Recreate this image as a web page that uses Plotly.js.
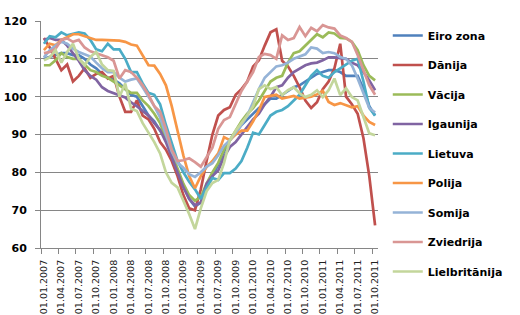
<!DOCTYPE html>
<html><head><meta charset="utf-8">
<script src="https://cdn.plot.ly/plotly-3.0.1.min.js"></script>
<style>html,body{margin:0;padding:0;background:#fff;}#c{width:520px;height:315px;}</style>
</head><body><div id="c"></div>
<script>
var months = ["01.01.2007","01.02.2007","01.03.2007","01.04.2007","01.05.2007","01.06.2007","01.07.2007","01.08.2007","01.09.2007","01.10.2007","01.11.2007","01.12.2007",
"01.01.2008","01.02.2008","01.03.2008","01.04.2008","01.05.2008","01.06.2008","01.07.2008","01.08.2008","01.09.2008","01.10.2008","01.11.2008","01.12.2008",
"01.01.2009","01.02.2009","01.03.2009","01.04.2009","01.05.2009","01.06.2009","01.07.2009","01.08.2009","01.09.2009","01.10.2009","01.11.2009","01.12.2009",
"01.01.2010","01.02.2010","01.03.2010","01.04.2010","01.05.2010","01.06.2010","01.07.2010","01.08.2010","01.09.2010","01.10.2010","01.11.2010","01.12.2010",
"01.01.2011","01.02.2011","01.03.2011","01.04.2011","01.05.2011","01.06.2011","01.07.2011","01.08.2011","01.09.2011","01.10.2011"];
var tickLabels = ["01.01.2007","01.04.2007","01.07.2007","01.10.2007","01.01.2008","01.04.2008","01.07.2008","01.10.2008","01.01.2009","01.04.2009","01.07.2009","01.10.2009","01.01.2010","01.04.2010","01.07.2010","01.10.2010","01.01.2011","01.04.2011","01.07.2011","01.10.2011"];

var eiroZona = [110,110.5,111,111.5,111.5,111,111,110,108.5,107.5,106,105,104.5,103.5,102,100.5,100,97.5,95,93.5,91,89,84.5,80,76.5,73,71,72,76,79,82,85.5,88.5,90.5,92.5,94,95.5,97,98,99.5,99.5,100.5,101.5,102.5,103,104,105,106,106.5,107,107,106.5,105.5,105.5,105.5,102,97.5,95];
var danija = [115.5,113,110,107,108.5,104,105.5,107.5,105,106,106.5,104.8,105.5,100,96,96,99,95,94,91.5,88,86,83,79,74,70.5,70,75.5,83,90,95,96.5,97.2,100.5,102,104,108,109.6,113.5,117,117.8,109.5,108,105.5,102.5,99,97,98.5,102,104,107.5,114,100,98,95.5,89,79,66];
var vacija = [108.3,108.3,109.6,111.5,110.5,110,110,108.5,107,106.5,105.5,105,104,103,102,101,101,99,97.5,95.5,93,89,85,80.5,77,74,72.5,73.5,77,80,82.5,86,88.5,91,93.5,95.5,97,99,101.5,104,105,105.5,109,111.5,112,113.5,115,116.5,115.7,117,116.7,115.5,115.4,114.5,112.3,108.3,105.5,104.3];
var igaunija = [115,115.5,115,115,113.5,111.5,109.5,107,105.5,104.5,102.5,101.5,101,100.5,99.8,98.5,97.5,96.2,95,93,91.2,88,84,80,76,73,71.3,72,77,79,80.5,84,86.7,88,90,92,94,95.5,98,100,102.5,103,105,106.5,107.5,108.3,108.8,109,109.6,110.4,110.4,110.2,110,109,108.3,106.5,104.3,101.7];
var lietuva = [114,116,115.7,117,116.2,116.7,117,116.7,115,112.5,112,114,112.5,112.5,110,106.5,106.5,103.5,101,100.5,98,92.5,87.5,83,80,77.5,75.5,73,76,78.5,78,79.8,79.8,81,83,86.5,90.5,90,92.5,95,96,96.5,97.5,99,100.5,103,105.5,107,105.5,105,106.5,107.5,108.5,109.5,110,104,97,95];
var polija = [112.3,114,113.6,115,115.7,116.5,116.5,116,115.4,115,115,115,115,114.8,114.5,113.8,113.5,111,108.3,108.2,106,103,97.5,91,84.5,79,75.8,79,81.4,83,85,89.3,88.5,90,91,91,93.5,96.4,99.9,100.2,100.5,99.5,99.8,100.2,99.5,99.8,100,100.6,101.5,98.6,97.8,98.3,97.8,97.2,97.5,95,93.3,92.5];
var somija = [110.4,112.3,113.5,114.5,114,112.7,111.8,111.2,110.6,109,107.5,106.5,106.5,105,104,104.5,104.8,102.5,100,97.5,94.5,90,85.5,82.5,81.2,79.5,78.8,80,81.5,82.4,84.5,87,88.5,90.5,92.5,95,98.5,102,105,106.5,108,108.3,109,110,110.5,111.2,113,112.7,111.5,111.8,111.5,110.5,110,108.3,104.8,100.9,97,95.8];
var zviedrija = [111.5,111.8,112.7,115,115.4,114.5,115,113,112,111.4,110.8,110.4,109.5,104.8,107,106.5,105,103,100.5,97.5,96,91.5,86,83,83.2,83.7,82.7,81.5,84,86.5,91.5,93.8,94.6,98,101.5,104,106.5,110.5,111.3,111,110,116.2,115,115.5,118.4,116,118.2,117.3,118.9,118.3,118,116.2,115.5,114.5,111,107,103,100.5];
var lielbritanija = [109.6,110.4,112.3,109,111.8,114,110,108.3,110.5,111.8,108.5,107,106.8,100,103.5,96.8,96.2,93,90.5,88,85,80,77.2,76,72.5,69,65,70.5,75,77.2,78,82.5,88.5,91,93,95,97.5,102,103,102,102.5,100.4,101.7,102.5,100.9,99.9,100.5,101.7,99.9,101.7,104.8,100.4,102.2,99.9,99,94.6,90.3,89.8];

var seriesNames = ["Eiro zona","Dānija","Vācija","Igaunija","Lietuva","Polija","Somija","Zviedrija","Lielbritānija"];
var seriesData = [eiroZona,danija,vacija,igaunija,lietuva,polija,somija,zviedrija,lielbritanija];
var colors = ["#4F81BD","#C0504D","#9BBB59","#8064A2","#4BACC6","#F79646","#95B3D7","#D99694","#C3D69B"];

var xIdx = months.map(function(m,i){return i;});
var tickIdx = tickLabels.map(function(t){return months.indexOf(t);});

var traces = seriesData.map(function(d,k){
  return {x:xIdx, y:d, type:'scatter', mode:'lines', name:seriesNames[k], legendgroup:'g'+k,
    line:{color:colors[k], width:2.7}, hoverinfo:'skip'};
});

var layout = {
  width:520, height:315,
  margin:{l:41,r:136,t:21,b:67},
  paper_bgcolor:'#fff', plot_bgcolor:'#fff',
  showlegend:true,
  legend:{x:1.029, xanchor:'left', y:1.0, yanchor:'top', maxheight:315,
    font:{family:'DejaVu Sans', size:11, color:'#000', weight:'bold'}, tracegroupgap:10.5, bgcolor:'rgba(0,0,0,0)'},
  xaxis:{range:[-0.5,57.5], tickvals:tickIdx, ticktext:tickLabels, tickangle:-90, ticks:'', ticklabelstandoff:7,
    tickfont:{family:'DejaVu Sans', size:9.5, color:'#222'}, showgrid:false, zeroline:false,
    showline:true, linecolor:'#868686', linewidth:1,
    minor:{tick0:-0.5, dtick:3, ticks:'outside', ticklen:5, tickcolor:'#868686', showgrid:false}},
  yaxis:{range:[60,120], dtick:10, ticks:'outside', ticklen:5, tickcolor:'#868686', ticklabelstandoff:6,
    tickfont:{family:'DejaVu Sans', size:11, color:'#000', weight:'bold'},
    showgrid:true, gridcolor:'#868686', gridwidth:1, zeroline:false,
    showline:true, linecolor:'#868686', linewidth:1}
};
Plotly.newPlot('c', traces, layout, {staticPlot:true});
</script></body></html>
